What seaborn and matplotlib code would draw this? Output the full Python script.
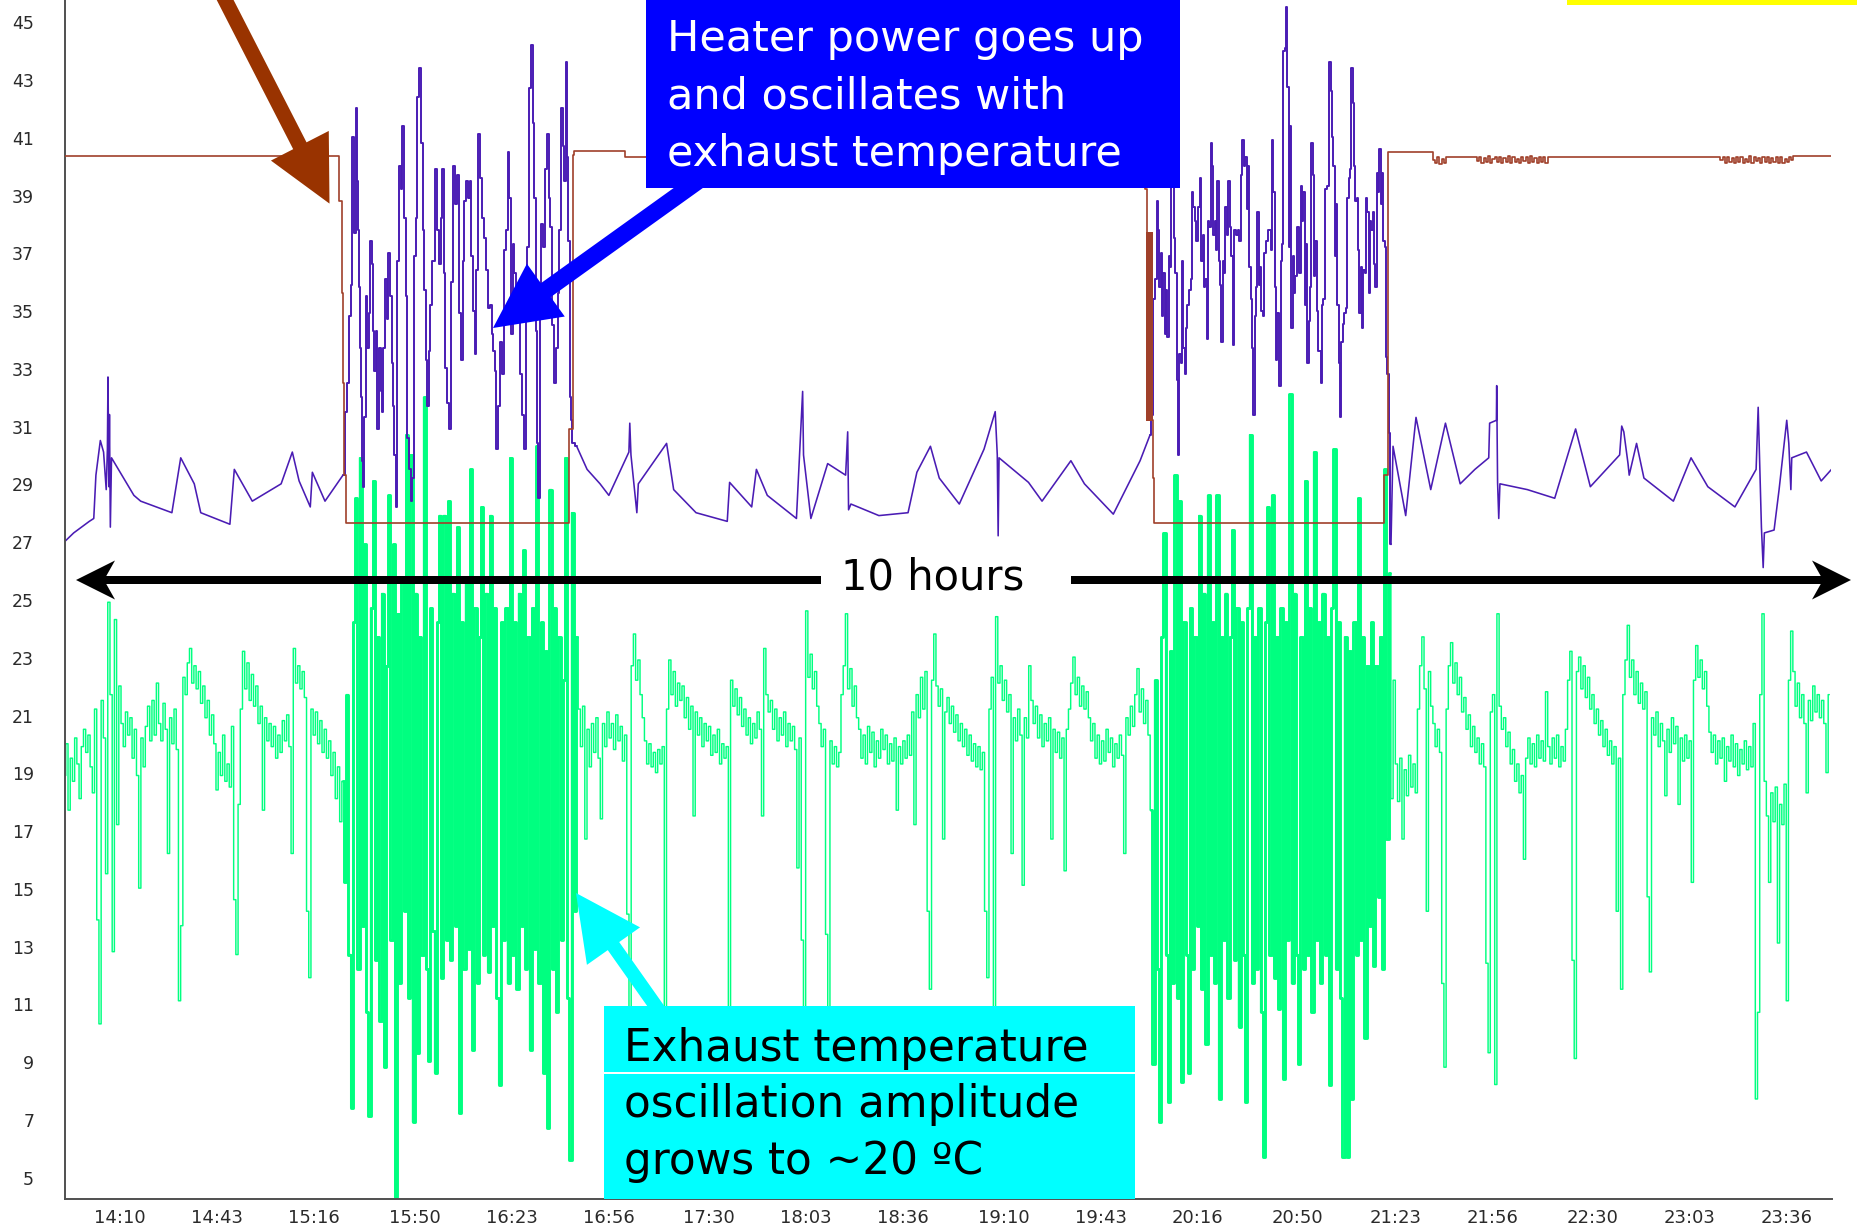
import numpy as np
import pandas as pd
import matplotlib
matplotlib.use("Agg")
import matplotlib.pyplot as plt
import seaborn as sns
from matplotlib.patches import Polygon, Rectangle
from matplotlib.transforms import ScaledTranslation

# ------------------------------------------------------------------ data
x_tick_labels = ["14:10", "14:43", "15:16", "15:50", "16:23", "16:56", "17:30", "18:03", "18:36",
                 "19:10", "19:43", "20:16", "20:50", "21:23", "21:56", "22:30", "23:03", "23:36"]
x_long_tick_labels = ["15:16", "18:03", "20:50", "23:36"]
y_ticks = [5, 7, 9, 11, 13, 15, 17, 19, 21, 23, 25, 27, 29, 31, 33, 35, 37, 39, 41, 43, 45]

# heater-on periods (minutes after 14:00) where the exhaust temperature oscillates strongly
oscillating_periods = [(94.5, 174.5), (368.5, 450.5)]

# exhaust temperature (green), one reading every 0.75 min from 14:00
green_step_min = 0.75
green_vals = [
    19.2, 20.3, 18.0, 19.8, 19.0, 20.5, 19.6, 18.4, 20.2, 20.8, 20.0, 20.6, 19.5, 18.6, 21.5, 14.2, 10.6, 21.8, 20.5, 15.8,
    25.2, 22.0, 13.1, 24.6, 17.5, 22.3, 21.0, 20.2, 21.4, 20.6, 21.2, 19.8, 20.8, 19.2, 15.3, 20.5, 19.5, 20.9, 21.6, 20.4,
    21.8, 20.6, 22.4, 21.0, 20.4, 21.7, 20.8, 16.5, 21.2, 20.3, 21.5, 20.1, 11.4, 14.0, 22.6, 22.0, 23.1, 23.6, 22.4, 23.0,
    22.2, 22.8, 21.7, 22.3, 21.2, 21.8, 20.6, 21.3, 20.3, 18.7, 20.0, 19.2, 20.6, 19.0, 19.6, 18.8, 20.9, 14.9, 13.0, 18.2,
    21.5, 23.5, 22.2, 23.1, 21.8, 22.7, 21.6, 22.3, 21.0, 21.6, 18.0, 21.2, 20.4, 21.0, 20.2, 20.9, 19.8, 20.6, 20.0, 21.1,
    20.4, 21.3, 20.2, 16.5, 23.6, 22.4, 23.0, 22.2, 22.8, 21.9, 14.5, 12.2, 21.5, 20.6, 21.4, 20.3, 21.1, 20.0, 20.8, 19.8,
    20.4, 19.2, 20.0, 18.4, 19.5, 17.6, 19.0, 15.5, 22.0, 13.0, 7.7, 24.5, 28.8, 12.5, 30.2, 14.0, 27.2, 11.0, 7.4, 25.0,
    29.4, 12.8, 24.0, 10.7, 25.5, 9.1, 23.0, 28.9, 13.5, 27.2, 4.6, 24.8, 12.0, 26.0, 14.5, 31.0, 11.5, 30.3, 7.2, 25.5,
    9.6, 24.0, 13.0, 32.3, 12.5, 9.3, 25.0, 13.8, 8.9, 24.5, 28.2, 12.2, 28.2, 13.5, 28.7, 12.8, 25.5, 14.0, 27.8, 7.5,
    24.5, 12.5, 26.0, 13.2, 29.8, 9.7, 25.0, 12.0, 24.0, 28.5, 13.0, 25.5, 12.4, 28.2, 14.0, 25.0, 11.5, 8.5, 24.5, 13.5,
    25.0, 12.0, 30.2, 13.0, 24.5, 11.8, 25.5, 14.0, 27.0, 12.5, 24.0, 9.7, 25.0, 13.2, 30.6, 12.0, 24.5, 8.9, 23.5, 7.0,
    29.1, 12.5, 25.0, 11.0, 24.0, 13.5, 22.5, 30.2, 11.5, 5.9, 28.3, 14.5, 24.0, 21.5, 20.2, 21.6, 17.0, 20.8, 19.5, 21.0,
    20.0, 21.2, 19.8, 17.7, 21.0, 20.2, 21.4, 20.5, 21.0, 20.1, 21.3, 20.4, 20.9, 19.7, 20.6, 14.4, 10.5, 23.0, 24.1, 22.5,
    23.2, 22.0, 21.2, 20.4, 19.6, 20.3, 19.5, 20.0, 19.3, 20.1, 19.6, 20.2, 10.5, 21.5, 23.2, 22.0, 22.8, 21.6, 22.4, 21.8,
    22.3, 21.2, 21.9, 20.8, 21.6, 17.8, 21.4, 20.6, 21.2, 20.2, 21.0, 20.4, 20.9, 19.9, 20.6, 20.0, 20.8, 19.6, 20.3, 19.8,
    20.2, 10.5, 22.5, 21.6, 22.2, 21.3, 21.9, 20.9, 21.5, 20.6, 21.2, 20.3, 21.0, 20.5, 21.4, 20.8, 17.8, 23.6, 22.0, 21.4,
    21.8, 20.8, 21.5, 20.4, 21.2, 20.6, 21.4, 20.2, 21.0, 20.4, 20.9, 20.1, 16.0, 20.5, 13.5, 10.5, 24.9, 22.6, 23.4, 22.2,
    22.8, 21.6, 21.0, 20.2, 20.8, 13.7, 11.0, 20.4, 19.6, 20.2, 19.5, 20.0, 22.0, 23.0, 24.8, 22.2, 22.9, 21.6, 22.3, 21.2,
    20.8, 19.8, 20.6, 19.6, 20.9, 20.0, 20.7, 19.5, 20.4, 19.8, 20.8, 20.1, 20.6, 19.6, 20.3, 19.7, 20.5, 18.0, 20.2, 19.6,
    20.4, 19.8, 20.6, 19.9, 21.4, 17.5, 22.0, 21.2, 22.6, 21.5, 22.8, 14.5, 11.8, 22.5, 24.1, 22.3, 21.6, 22.2, 17.0, 21.4,
    21.9, 21.0, 21.6, 20.7, 21.3, 20.4, 21.0, 20.2, 20.8, 19.9, 20.6, 19.7, 20.3, 19.5, 20.2, 19.4, 20.0, 14.5, 12.2, 21.5,
    22.6, 11.0, 24.7, 22.4, 23.0, 21.8, 22.5, 21.4, 22.0, 16.5, 21.2, 20.4, 21.5, 20.6, 15.4, 21.2, 20.5, 23.0, 21.8, 21.0,
    21.6, 20.5, 21.3, 20.2, 21.0, 20.4, 21.2, 17.0, 20.8, 20.0, 20.7, 19.8, 20.5, 15.9, 20.8, 21.5, 22.4, 23.3, 22.0, 22.6,
    21.6, 22.3, 21.5, 22.1, 21.2, 20.4, 21.0, 19.8, 20.6, 19.6, 20.4, 19.7, 20.8, 20.0, 20.5, 19.5, 20.3, 19.8, 20.6, 19.9,
    16.5, 21.2, 20.6, 21.6, 20.9, 22.0, 22.9, 21.4, 22.2, 21.0, 21.8, 20.6, 18.0, 9.2, 22.5, 12.5, 7.2, 24.0, 27.6, 13.0,
    7.9, 23.5, 12.0, 29.6, 11.5, 28.7, 8.6, 24.5, 13.0, 8.9, 25.0, 12.5, 24.0, 14.0, 28.2, 11.8, 25.5, 9.9, 28.9, 13.0,
    24.5, 12.0, 28.9, 8.0, 24.0, 13.5, 25.5, 11.5, 24.0, 27.7, 12.8, 25.0, 10.5, 24.5, 13.0, 7.9, 25.0, 31.0, 12.0, 24.0,
    12.5, 25.0, 11.0, 6.0, 24.5, 28.5, 13.0, 28.9, 12.2, 24.0, 11.1, 25.0, 8.7, 24.5, 13.5, 32.4, 12.0, 25.5, 13.0, 9.2,
    24.0, 12.5, 29.4, 13.0, 25.0, 11.0, 30.4, 13.5, 24.5, 12.0, 25.5, 13.0, 24.0, 8.5, 25.0, 30.5, 12.5, 24.5, 11.5, 6.0,
    24.0, 6.0, 23.5, 8.0, 24.5, 13.0, 28.8, 13.5, 24.0, 10.1, 23.0, 14.0, 24.5, 12.6, 23.0, 15.0, 24.0, 12.5, 29.8, 17.0,
    26.2, 18.4, 22.5, 19.6, 18.3, 19.8, 17.0, 19.4, 18.5, 19.9, 18.8, 19.6, 18.6, 21.5, 23.0, 24.0, 22.2, 14.5, 22.8, 21.6,
    21.0, 20.2, 20.8, 20.0, 12.0, 9.1, 21.5, 23.0, 23.8, 22.4, 23.1, 22.0, 22.6, 21.4, 21.9, 20.8, 21.3, 20.2, 20.9, 20.0,
    20.5, 19.6, 20.3, 19.5, 12.7, 9.6, 21.4, 22.0, 8.5, 24.8, 21.6, 20.8, 21.2, 20.2, 20.7, 19.6, 20.1, 19.0, 19.6, 18.6,
    19.2, 16.3, 19.8, 20.5, 19.6, 20.3, 19.5, 20.6, 19.8, 20.4, 19.7, 22.1, 20.2, 19.6, 20.5, 19.8, 20.6, 19.5, 20.2, 19.7,
    20.8, 22.5, 23.5, 12.8, 9.4, 22.8, 23.3, 22.2, 23.0, 21.9, 22.6, 21.5, 22.0, 21.0, 21.5, 20.6, 21.1, 20.2, 20.8, 19.9,
    20.4, 19.6, 20.2, 14.5, 19.8, 11.8, 22.0, 23.2, 24.4, 22.6, 23.2, 22.0, 22.8, 21.7, 22.4, 21.5, 22.1, 15.0, 12.4, 21.2,
    20.6, 21.4, 20.2, 21.0, 20.4, 18.5, 20.8, 20.0, 21.2, 20.3, 20.9, 18.2, 20.5, 19.7, 20.6, 19.8, 20.4, 15.5, 22.5, 23.7,
    22.6, 23.2, 22.2, 22.8, 21.6, 20.7, 20.0, 20.6, 19.6, 20.4, 19.8, 20.5, 19.0, 20.2, 19.7, 20.6, 19.5, 20.3, 19.2, 20.1,
    19.6, 20.4, 19.4, 20.2, 19.5, 21.0, 8.0, 11.0, 22.0, 24.8, 19.0, 17.8, 15.5, 18.6, 17.6, 18.8, 13.4, 18.2, 17.5, 18.9,
    11.4, 22.5, 24.2, 22.8, 21.6, 22.4, 21.2, 22.0, 21.0, 18.6, 21.8, 21.1, 22.3, 21.4, 22.0, 21.2, 21.8, 21.0, 19.3, 22.0,
]

# heater power (purple): minutes after 14:00 and value
purple_base1_t = [0.0, 3.05, 8.35, 9.87, 10.6, 12.1, 13.2, 14.1, 14.5, 14.7, 15.0, 15.2, 15.5, 15.9, 23.5,
                  25.8, 36.4, 39.4, 44.0, 46.2, 56.1, 57.6, 63.7, 73.5, 77.3, 79.6, 83.4, 84.1, 88.4, 94.5]
purple_base1_v = [27.3, 27.6, 28.0, 28.1, 29.6, 30.8, 30.4, 29.1, 30.5, 33.0, 29.2, 31.7, 27.8, 30.2, 28.9,
                  28.7, 28.3, 30.2, 29.3, 28.3, 27.9, 29.8, 28.7, 29.3, 30.4, 29.4, 28.5, 29.7, 28.7, 29.6]

purple_heat1_t = [95.75, 96.32, 96.88, 97.45, 98.01, 98.58, 99.15, 99.37, 99.71, 100.05, 100.50, 100.84, 101.18,
                  101.64, 101.98, 102.54, 102.99, 103.45, 104.01, 104.58, 104.92, 105.37, 105.94, 106.50, 107.07,
                  107.52, 107.86, 108.20, 109.11, 109.56, 110.24, 110.69, 111.37, 111.82, 112.16, 112.73, 113.30,
                  113.86, 114.43, 114.99, 115.56, 116.13, 116.69, 117.26, 117.82, 118.39, 118.96, 119.52, 120.09,
                  120.88, 121.33, 121.79, 122.35, 122.92, 123.48, 123.82, 124.62, 125.18, 126.09, 126.88, 127.45,
                  128.01, 128.58, 128.92, 129.71, 130.28, 130.84, 131.41, 132.20, 132.88, 133.67, 134.24,
                  134.81, 135.38, 135.94, 136.51, 137.08, 137.87, 138.21, 139.0, 139.45, 140.13, 140.81, 141.38,
                  142.17, 142.74, 143.53, 144.21, 144.77, 145.34, 145.79, 146.36, 146.70, 147.49, 148.06, 148.74,
                  149.53, 150.09, 150.77, 151.23, 151.79, 152.36, 152.92, 153.49, 154.17, 154.85, 155.53, 156.32,
                  156.66, 157.34, 158.02, 158.58, 159.15, 159.72, 160.28, 160.51, 161.19, 161.41, 161.98, 162.77,
                  163.45, 164.02, 164.58, 165.15, 165.72, 166.62, 167.07, 167.64, 168.21, 168.77, 169.34, 169.90,
                  170.47, 170.81, 171.26, 171.6, 171.94, 172.51]
purple_heat1_v = [31.8, 32.8, 35.1, 36.2, 41.3, 38.0, 42.3, 39.8, 38.1, 36.1, 34.0, 32.3, 30.1, 29.2, 31.6,
                  35.8, 34.0, 35.2, 37.7, 36.9, 34.6, 33.2, 34.6, 31.2, 34.0, 32.5, 31.8, 34.0, 36.4, 35.0, 37.3,
                  35.8, 33.5, 32.0, 30.3, 28.5, 37.0, 40.3, 39.5, 41.7, 38.5, 35.8, 30.9, 29.8, 28.7, 29.5, 37.2,
                  38.5, 42.7, 43.7, 41.1, 38.1, 36.0, 33.6, 32.0, 33.9, 35.5, 37.0, 40.2, 38.1, 36.9, 38.5, 40.2,
                  36.6, 33.3, 32.1, 31.2, 36.3, 40.3, 39.0, 40.0, 35.2,
                  33.6, 37.0, 39.1, 39.8, 39.2, 39.8, 37.2, 35.3, 33.8, 36.7, 41.4, 39.9, 38.5, 37.8, 36.7, 35.4,
                  35.5, 34.5, 33.9, 33.2, 30.5, 32.0, 34.2, 33.1, 37.4, 38.1, 40.8, 39.2, 34.5, 37.6, 36.6, 35.3,
                  35.0, 33.1, 31.7, 30.5, 36.0, 37.5, 43.0, 44.5, 41.8, 39.2, 34.6, 30.7, 28.8, 36.0, 38.3, 37.5,
                  40.2, 41.4, 39.2, 38.2, 34.8, 32.8, 34.0, 35.9, 38.1, 42.3, 41.0, 39.8, 43.9, 40.6, 37.7, 32.3,
                  31.5, 30.7]

purple_base2_t = [173.87, 177.4, 181.8, 184.8, 191.6, 191.9, 192.3, 194.3, 194.8, 204.4, 206.8, 214.4, 225.0,
                  225.8, 233.3, 234.9, 238.6, 248.5, 250.6, 250.9, 253.4, 259.1, 265.2, 265.9, 266.2, 267.0,
                  276.5, 286.4, 289.4, 294.0, 297.0, 303.8, 312.2, 316.0, 316.7, 317.0, 317.3, 327.3, 331.9,
                  341.7, 346.3, 356.1, 365.2, 368.6]
purple_base2_v = [30.6, 29.8, 29.3, 28.9, 30.4, 31.4, 30.3, 28.3, 29.3, 30.7, 29.1, 28.3, 28.0, 29.35, 28.5,
                  29.8, 28.9, 28.1, 32.5, 30.3, 28.1, 30.0, 29.6, 31.1, 28.4, 28.6, 28.2, 28.3, 29.7, 30.6, 29.5,
                  28.6, 30.5, 31.8, 30.3, 27.5, 30.2, 29.35, 28.7, 30.1, 29.3, 28.25, 30.1, 31.0]

purple_heat2_t = [369.46, 369.91, 370.59, 371.05, 371.5, 371.95, 372.4, 372.86, 373.31, 373.76, 374.22, 374.67,
                  375.12, 375.57, 376.03, 376.48, 376.93, 377.39, 377.84, 378.29, 378.74, 379.2, 379.65, 380.1,
                  380.56, 381.01, 381.57, 382.14, 382.71, 383.05, 383.5, 384.06, 384.63, 385.31, 385.76, 386.21,
                  386.67, 387.12, 387.57, 388.03, 388.48, 388.93, 389.38, 389.84, 390.29, 390.74, 391.2, 391.65,
                  392.1, 392.55, 393.01, 393.46, 393.91, 394.37, 394.82, 395.5, 395.95, 396.4, 396.86, 397.31,
                  397.99, 398.67, 399.12, 399.69, 400.25, 400.7, 401.16, 401.61, 402.06, 402.52, 402.97, 403.42,
                  403.87, 404.33, 404.78, 405.23, 405.69, 406.14, 406.59, 407.04, 407.5, 408.18, 408.86,
                  409.31, 409.87, 410.21, 410.66, 411.12, 411.57, 412.14, 412.7, 413.15, 413.61, 414.06, 414.51,
                  414.97, 415.42, 415.87, 416.32, 416.78, 417.23, 417.68, 418.14, 418.59, 419.04, 419.49, 419.95,
                  420.4, 420.85, 421.31, 421.76, 422.21, 422.66, 423.12, 423.57, 424.02, 424.47, 424.93, 425.38,
                  425.83, 426.29, 426.74, 427.19, 427.64, 428.32, 428.78, 429.23, 429.68, 430.13, 430.59, 431.04,
                  431.49, 431.95, 432.4, 432.85, 433.3, 433.76, 434.21, 434.66, 435.34, 435.79, 436.25, 436.7,
                  437.15, 437.61, 438.06, 438.51, 438.96, 439.42, 439.87, 440.32, 440.78, 441.23, 441.68, 442.13,
                  442.59, 443.04, 443.49, 443.95, 444.4, 444.85, 445.3, 445.76, 446.21, 446.66, 447.12, 447.57,
                  448.02, 448.47, 448.93, 449.38, 449.83]
purple_heat2_v = [31.7, 35.7, 36.4, 39.1, 38.1, 36.1, 37.3, 35.1, 36.6, 34.5, 36.0, 34.4, 37.2, 36.8, 39.6,
                  41.1, 37.8, 36.6, 32.9, 30.3, 33.8, 33.5, 37.0, 34.0, 33.1, 34.7, 35.5, 36.0, 36.4, 39.4, 38.9,
                  38.4, 37.7, 38.9, 39.9, 37.0, 37.9, 36.1, 36.4, 34.3, 38.4, 38.2, 41.1, 40.3, 37.9, 38.4, 37.4,
                  39.8, 37.0, 36.2, 34.2, 37.0, 36.6, 38.9, 37.9, 39.8, 38.2, 37.2, 34.1, 38.1, 37.9, 38.1, 37.7,
                  40.0, 41.2, 40.3, 40.6, 38.8, 40.3, 36.8, 35.7, 34.0, 31.7, 35.1, 36.1, 38.7, 36.2, 36.8, 35.3,
                  35.1, 37.3, 37.7, 38.1,
                  38.1, 37.4, 41.2, 39.4, 36.1, 33.6, 35.2, 32.7, 37.0, 37.6, 44.3, 44.4, 45.8, 43.05, 37.5, 41.7,
                  34.7, 37.2, 35.9, 36.5, 38.2, 38.2, 36.6, 39.6, 38.4, 39.4, 35.5, 37.6, 33.5, 34.95, 36.1, 41.1,
                  40.0, 36.5, 37.7, 35.3, 33.9, 33.9, 32.8, 35.5, 35.7, 39.5, 39.6, 39.6, 43.9, 42.9, 41.3, 40.3,
                  37.2, 39.0, 35.5, 33.5, 31.6, 34.2, 34.85, 35.2, 35.4, 39.2, 39.9, 40.2, 43.7, 42.5, 40.3, 39.1,
                  39.2, 37.4, 35.2, 36.8, 34.7, 36.7, 36.6, 39.2, 38.7, 35.9, 38.4, 38.1, 38.7, 36.9, 36.1, 40.05,
                  39.4, 40.9, 39.0, 40.05, 37.7, 37.5, 33.7, 33.1, 31.05]

purple_base3_t = [450.4, 451.1, 455.4, 458.9, 463.9, 468.9, 473.9, 478.9, 483.6, 483.9, 486.2, 486.3, 486.6,
                  487.0, 487.4, 496.7, 506.0, 513.1, 518.1, 528.05, 528.76, 529.47, 530.9, 531.3, 533.8, 536.3,
                  546.3, 552.3, 558.0, 567.2, 574.4, 575.1, 575.5, 576.2, 576.8, 577.2, 580.5, 582.2, 584.8,
                  585.5, 586.2, 586.5, 591.5, 596.5, 600.0]
purple_base3_v = [27.2, 30.6, 28.2, 31.6, 29.1, 31.4, 29.3, 29.8, 30.2, 31.4, 31.5, 32.7, 29.35, 28.1, 29.3,
                  29.1, 28.8, 31.2, 29.2, 30.3, 31.3, 31.1, 30.0, 29.6, 30.7, 29.5, 28.7, 30.2, 29.2, 28.5, 29.8,
                  31.95, 30.45, 27.8, 26.4, 27.6, 27.7, 29.1, 31.5, 30.7, 29.1, 30.2, 30.4, 29.4, 29.8]

# third trace (brown), step changes: minutes after 14:00 and value
brown_steps_t = [0.0, 93.25, 94.06, 94.4, 94.96, 95.5, 171.4, 172.5, 173.0, 190.3, 367.0, 367.4, 369.5, 369.8,
                 448.2, 449.4, 469.85, 504.35, 587.05, 600.0]
brown_steps_v = [40.65, 39.1, 35.9, 32.8, 29.6, 27.95, 31.2, 40.7, 40.82, 40.6, 39.5, 38.0, 29.5, 27.95,
                 29.6, 40.8, 40.6, 40.6, 40.65, 40.65]
# short chatter sections of the brown trace: start minute, spacing, readings
brown_chatter_start = [367.55, 464.6, 479.6, 562.3]
brown_chatter_step = [0.15, 0.75, 0.75, 0.75]
brown_chatter_vals = [
    [31.5, 38.0, 31.5, 38.0, 31.5, 38.0, 31.5, 38.0, 31.5, 38.0, 31.5, 38.0, 31.5],
    [40.5, 40.4, 40.62, 40.38, 40.55, 40.42, 40.6],
    [40.48, 40.62, 40.42, 40.58, 40.45, 40.64, 40.4, 40.55, 40.6, 40.43, 40.62, 40.4, 40.58, 40.46, 40.65,
     40.42, 40.6, 40.45, 40.56, 40.4, 40.62, 40.47, 40.6, 40.41, 40.64, 40.44, 40.58, 40.4, 40.62, 40.45,
     40.6, 40.42, 40.6],
    [40.5, 40.62, 40.41, 40.6, 40.44, 40.58, 40.4, 40.62, 40.46, 40.6, 40.42, 40.56, 40.45, 40.64, 40.4,
     40.6, 40.47, 40.58, 40.41, 40.62, 40.44, 40.6, 40.4, 40.58, 40.45, 40.62, 40.42, 40.6, 40.4, 40.56,
     40.45, 40.6, 40.5],
]

# ------------------------------------------------------------------ build frames
green_df = pd.DataFrame({"t": np.arange(len(green_vals)) * green_step_min, "v": green_vals})


def pair(ts, vs):
    n = min(len(ts), len(vs))
    return list(ts[:n]), list(vs[:n])


b1 = pd.DataFrame(dict(zip(["t", "v"], pair(purple_base1_t, purple_base1_v))))
h1 = pd.DataFrame(dict(zip(["t", "v"], pair(purple_heat1_t, purple_heat1_v))))
b2 = pd.DataFrame(dict(zip(["t", "v"], pair(purple_base2_t, purple_base2_v))))
h2 = pd.DataFrame(dict(zip(["t", "v"], pair(purple_heat2_t, purple_heat2_v))))
b3 = pd.DataFrame(dict(zip(["t", "v"], pair(purple_base3_t, purple_base3_v))))
# heater-on stretches joined to the neighbouring calm stretches
h1_full = pd.concat([b1.tail(1), h1, b2.head(1)])
h2_full = pd.concat([b2.tail(1), h2, b3.head(1)])

bt, bv = list(brown_steps_t), list(brown_steps_v)
for s, d, vals in zip(brown_chatter_start, brown_chatter_step, brown_chatter_vals):
    bt += [s + d * k for k in range(len(vals))]
    bv += vals
brown_df = pd.DataFrame({"t": bt, "v": bv}).sort_values("t")


def label_to_min(s):
    h, m = s.split(":")
    return (int(h) - 14) * 60 + int(m)


# ------------------------------------------------------------------ figure
sns.set_theme(style="white")
plt.rcParams["font.family"] = ["DejaVu Sans"]

W, H = 1858, 1229
fig = plt.figure(figsize=(W / 100, H / 100), dpi=100)
fig.patch.set_facecolor("white")
ax = fig.add_axes([64.7 / W, 1 - 1199 / H, (1831.5 - 64.7) / W, 1199 / H])
ax.set_facecolor("white")

GREEN, PURPLE, BROWN = "#00ff80", "#4a1cb4", "#a0402a"
common = dict(ax=ax, sort=False, estimator=None, legend=False)

sns.lineplot(data=green_df, x="t", y="v", color=GREEN, lw=1.05, drawstyle="steps-mid", zorder=1, **common)
for a, b in oscillating_periods:
    seg = green_df[(green_df["t"] >= a) & (green_df["t"] <= b)]
    sns.lineplot(data=seg, x="t", y="v", color=GREEN, lw=2.1, drawstyle="steps-mid", zorder=1.1, **common)

for seg in [b1, b2, b3]:
    sns.lineplot(data=seg, x="t", y="v", color=PURPLE, lw=1.15, zorder=2, **common)
for seg in [h1_full, h2_full]:
    sns.lineplot(data=seg, x="t", y="v", color=PURPLE, lw=1.4, drawstyle="steps-mid", zorder=2, **common)

sns.lineplot(data=brown_df, x="t", y="v", color=BROWN, lw=1.2, drawstyle="steps-post", zorder=3, **common)

ax.set_xlim(0, 600)
ax.set_ylim(4.536, 46.053)
ax.set_xlabel("")
ax.set_ylabel("")

for side in ["top", "right"]:
    ax.spines[side].set_visible(False)
for side in ["left", "bottom"]:
    ax.spines[side].set_color("#505050")
    ax.spines[side].set_linewidth(1.4)

ax.set_xticks([label_to_min(s) for s in x_tick_labels])
ax.set_xticklabels(x_tick_labels)
ax.set_xticks([label_to_min(s) for s in x_long_tick_labels], minor=True)
ax.tick_params(axis="x", which="major", direction="out", length=3.2, width=1.0, color="#505050",
               pad=4.0, labelsize=13, labelcolor="#2a2a2a")
ax.tick_params(axis="x", which="minor", direction="out", length=6.5, width=1.0, color="#505050")
for lbl in ax.get_xticklabels():
    lbl.set_horizontalalignment("left")

ax.set_yticks(y_ticks)
ax.set_yticklabels([str(v) for v in y_ticks])
ax.tick_params(axis="y", which="major", direction="out", length=7, width=1.0, color="#505050",
               pad=15, labelsize=12.5, labelcolor="#2a2a2a")
offset = ScaledTranslation(0, 8 / 100, fig.dpi_scale_trans)
for tick in ax.yaxis.get_major_ticks():
    tick.label1.set_transform(tick.label1.get_transform() + offset)


# ------------------------------------------------------------------ annotations (pixel helpers)
def pf(x, y):
    return (x / W, 1 - y / H)


def add_poly(pts, color, z):
    fig.add_artist(Polygon([pf(x, y) for x, y in pts], closed=True, transform=fig.transFigure,
                           facecolor=color, edgecolor="none", zorder=z))


def add_rect(x0, y0, x1, y1, color, z):
    fig.add_artist(Rectangle(pf(x0, y1), (x1 - x0) / W, (y1 - y0) / H, transform=fig.transFigure,
                             facecolor=color, edgecolor="none", zorder=z))


def arrow_pts(start, tip, shaft, head_len, head_w):
    (sx, sy), (tx, ty) = start, tip
    dx, dy = tx - sx, ty - sy
    L = np.hypot(dx, dy)
    ux, uy = dx / L, dy / L
    nx, ny = -uy, ux
    bx, by = tx - ux * head_len, ty - uy * head_len
    return [(sx + nx * shaft / 2, sy + ny * shaft / 2), (bx + nx * shaft / 2, by + ny * shaft / 2),
            (bx + nx * head_w / 2, by + ny * head_w / 2), (tx, ty),
            (bx - nx * head_w / 2, by - ny * head_w / 2), (bx - nx * shaft / 2, by - ny * shaft / 2),
            (sx - nx * shaft / 2, sy - ny * shaft / 2)]


# brown arrow from the top
add_poly(arrow_pts((219, -12), (329.5, 203.6), 15, 65, 65), "#993300", 8)
# blue arrow and box
add_poly(arrow_pts((705, 176), (493, 328), 17, 65, 65), "#0000ff", 8)
add_rect(646, 0, 1179.5, 188, "#0000ff", 10)
blue_lines = ["Heater power goes up", "and oscillates with", "exhaust temperature"]
for line, base in zip(blue_lines, [51.4, 108.7, 166.0]):
    fig.text(*pf(667, base), line, color="white", fontsize=31, ha="left", va="baseline", zorder=11)

# cyan arrow and box
add_poly(arrow_pts((660, 1012), (576, 893), 14, 65, 65), "#00ffff", 8)
add_rect(604, 1006, 1135.5, 1199, "#00ffff", 10)
add_rect(604, 1072, 1135.5, 1073.5, "white", 10.5)
cyan_lines = ["Exhaust temperature", "oscillation amplitude", "grows to ~20 \u00baC"]
for line, base in zip(cyan_lines, [1061, 1117.5, 1173.6]):
    fig.text(*pf(624.5, base), line, color="black", fontsize=31.5, ha="left", va="baseline", zorder=11)

# "10 hours" double arrow
add_rect(100, 576, 821, 584, "black", 9)
add_rect(1071, 576, 1830, 584, "black", 9)
add_poly([(76, 580), (115, 560.5), (104, 580), (115, 599.5)], "black", 9)
add_poly([(1851, 580), (1812, 560.5), (1823, 580), (1812, 599.5)], "black", 9)
fig.text(*pf(841, 589), "10 hours", color="black", fontsize=30, ha="left", va="baseline", zorder=11)

# yellow strip at the top right
add_rect(1567, 0, 1858, 4.7, "#ffff00", 10)

fig.savefig("out.png", dpi=100, facecolor="white")
